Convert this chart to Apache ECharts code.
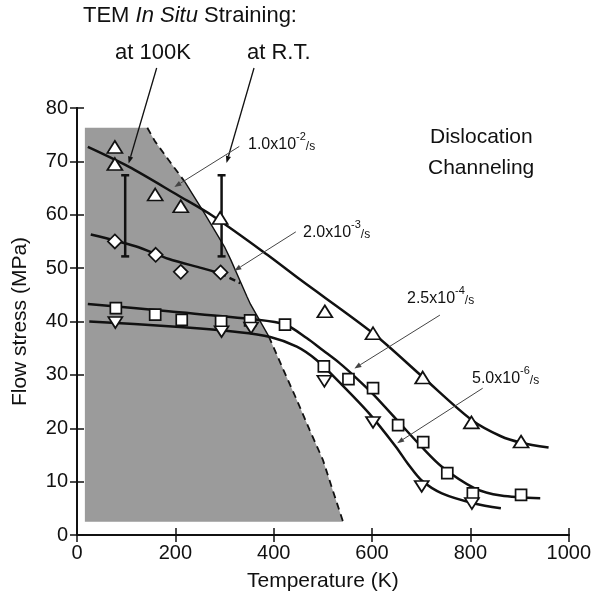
<!DOCTYPE html>
<html>
<head>
<meta charset="utf-8">
<script src="https://cdn.jsdelivr.net/npm/echarts@6/dist/echarts.min.js"></script>
<style>
  html, body { margin: 0; padding: 0; background: #fff; }
  #chart { width: 594px; height: 602px; }
</style>
</head>
<body>
<div id="chart"></div>
<script>
// temperature (K), flow stress (MPa)
var xTicks = [0, 200, 400, 600, 800, 1000];
var yTicks = [0, 10, 20, 30, 40, 50, 60, 70, 80];

// measured points
var rate1e2 = [[77, 72.7], [77, 69.5], [159, 63.8], [211, 61.6], [291, 59.4], [504, 41.9], [602, 37.8], [703, 29.5], [802, 21.1], [903, 17.5]];
var rate2e3 = [[77, 55.0], [160, 52.5], [211, 49.3], [292, 49.2]];
var rate25e4 = [[79, 42.5], [159, 41.3], [213, 40.3], [293, 40.0], [352, 40.2], [423, 39.4], [502, 31.6], [552, 29.2], [602, 27.5], [653, 20.6], [704, 17.4], [753, 11.6], [805, 7.8], [903, 7.5]];
var rate5e6 = [[78, 39.8], [294, 38.1], [354, 38.8], [503, 28.8], [602, 21.1], [701, 9.1], [803, 5.9]];

// fitted curves
var fit1e2 = [[22, 72.7], [105, 69.0], [206, 63.6], [274, 59.9], [387, 52.5], [453, 47.9], [602, 37.8], [703, 29.6], [802, 21.6], [862, 18.5], [903, 17.3], [959, 16.4]];
var fit2e3 = [[28, 56.3], [119, 54.1], [187, 51.7], [254, 50.0], [292, 49.0]];
var fit2e3Ext = [[292, 49.0], [332, 47.2]];
var fit25e4 = [[22, 43.3], [186, 41.9], [360, 40.4], [424, 39.4], [467, 36.9], [500, 34.6], [534, 32.2], [567, 29.5], [603, 26.3], [653, 21.3], [700, 16.6], [742, 12.8], [808, 8.8], [862, 7.4], [942, 6.9]];
var fit5e6 = [[25, 40.0], [186, 39.1], [330, 38.0], [393, 37.1], [447, 35.3], [487, 32.8], [535, 28.5], [594, 22.8], [648, 16.6], [674, 13.2], [701, 10.2], [742, 7.8], [808, 5.9], [862, 5.0]];

// TEM in situ ranges [T, low, high]
var temRanges = [[98, 52.2, 67.4], [294, 52.2, 67.4]];

// "No Channels" region
var shadeTop = [[16, 76.3], [143, 76.3]];
var edgeUpper = [[143, 76.3], [159, 73.7], [186, 70.3], [219, 66.2]];
var edgeMiddle = [[219, 66.2], [259, 60.3], [300, 54.0], [313, 51.5], [346, 44.6], [353, 43.2], [390, 37.2]];
var edgeLower = [[390, 37.2], [420, 30.9], [447, 25.3], [473, 19.7], [500, 14.1], [520, 8.4], [541, 2.5]];
var shadeFloor = 2.5;

// annotation arrows in data units: [from, to]
var temArrows = [[[162, 87.5], [105, 69.6]], [[360, 87.5], [304, 69.7]]];
var rateArrows = [[[330, 72.8], [198, 65.2]], [[445, 56.8], [320, 49.5]], [[738, 41.2], [564, 31.2]], [[825, 27.5], [651, 17.2]]];

var font = "'Liberation Sans', Arial, sans-serif";
var black = '#111';

var myChart = echarts.init(document.getElementById('chart'));

function pts(name, data, symbol, size, rotate) {
  return {
    name: name, type: 'scatter', data: data, symbol: symbol, symbolSize: size,
    symbolRotate: rotate || 0, z: 10,
    itemStyle: { color: '#fff', opacity: 1, borderColor: black, borderWidth: 1.7 }
  };
}
function fit(data, dashed) {
  return {
    type: 'line', data: data, symbol: 'none', smooth: 0.3, z: 5,
    lineStyle: { color: black, width: 2.5, type: dashed ? [6, 4] : 'solid' }
  };
}
function edge(data, dashed) {
  return {
    type: 'line', data: data, symbol: 'none', z: 2,
    lineStyle: { color: black, width: dashed ? 1.8 : 1.4, type: dashed ? [7, 5] : 'solid' }
  };
}
function rateLabel(x, y, mant, exp) {
  return {
    type: 'text', left: x, top: y,
    style: {
      text: '{a|' + mant + '}{b|' + exp + '}{c|/s}',
      rich: {
        a: { fontSize: 16, fontFamily: font, fill: black, lineHeight: 22, verticalAlign: 'bottom' },
        b: { fontSize: 11, fontFamily: font, fill: black, lineHeight: 22, verticalAlign: 'top' },
        c: { fontSize: 12, fontFamily: font, fill: black, lineHeight: 22, verticalAlign: 'bottom' }
      }
    }
  };
}
// arrow drawn through the axes' scales
function arrowShapes(pair, color, width) {
  var a = myChart.convertToPixel({ gridIndex: 0 }, pair[0]);
  var b = myChart.convertToPixel({ gridIndex: 0 }, pair[1]);
  var dx = b[0] - a[0], dy = b[1] - a[1];
  var len = Math.sqrt(dx * dx + dy * dy);
  var ux = dx / len, uy = dy / len;
  var hl = 7, hw = 2.6;
  var bx = b[0] - ux * hl, by = b[1] - uy * hl;
  return [
    { type: 'line', silent: true, z: 50, shape: { x1: a[0], y1: a[1], x2: bx, y2: by }, style: { stroke: color, lineWidth: width } },
    { type: 'polygon', silent: true, z: 50, shape: { points: [[b[0], b[1]], [bx - uy * hw, by + ux * hw], [bx + uy * hw, by - ux * hw]] }, style: { fill: color } }
  ];
}

var axisText = { fontSize: 20, color: black, fontFamily: font, formatter: function (v) { return String(v); } };
var option = {
  animation: false,
  grid: { left: 77, right: 18, top: 108, bottom: 67 },
  xAxis: [{
    type: 'value', min: 0, max: 1000, interval: 200,
    name: 'Temperature (K)', nameLocation: 'middle', nameGap: 36,
    nameTextStyle: { fontSize: 21, color: black, fontFamily: font },
    axisLine: { lineStyle: { color: black, width: 2 } },
    axisTick: { inside: true, length: 7, lineStyle: { color: black, width: 1.5 } },
    axisLabel: Object.assign({ margin: 8 }, axisText),
    splitLine: { show: false }
  }, {
    type: 'value', position: 'top', min: 0, max: 1000, interval: 200,
    axisLine: { lineStyle: { color: black, width: 2 } },
    axisTick: { inside: true, length: 7, lineStyle: { color: black, width: 1.5 } },
    axisLabel: { show: false }, splitLine: { show: false }
  }],
  yAxis: [{
    type: 'value', min: 0, max: 80, interval: 10,
    name: 'Flow stress (MPa)', nameLocation: 'middle', nameGap: 46,
    nameTextStyle: { fontSize: 21, color: black, fontFamily: font },
    axisLine: { show: true, lineStyle: { color: black, width: 2 } },
    axisTick: { show: true, inside: true, length: 7, lineStyle: { color: black, width: 1.5 } },
    axisLabel: Object.assign({ margin: 9 }, axisText),
    splitLine: { show: false }
  }, {
    type: 'value', position: 'right', min: 0, max: 80, interval: 10,
    axisLine: { show: true, lineStyle: { color: black, width: 2 } },
    axisTick: { show: true, inside: true, length: 7, lineStyle: { color: black, width: 1.5 } },
    axisLabel: { show: false }, splitLine: { show: false }
  }],
  series: [
    {
      type: 'line', data: shadeTop.concat(edgeUpper.slice(1), edgeMiddle.slice(1), edgeLower.slice(1)),
      symbol: 'none', z: 1,
      lineStyle: { width: 0 },
      areaStyle: { color: '#9b9b9b', opacity: 1, origin: shadeFloor }
    },
    edge(edgeUpper, true), edge(edgeMiddle, false), edge(edgeLower, true),
    fit(fit1e2), fit(fit2e3), fit(fit2e3Ext, true), fit(fit25e4), fit(fit5e6),
    {
      type: 'custom', data: temRanges, z: 6,
      renderItem: function (params, api) {
        var top = api.coord([api.value(0), api.value(2)]);
        var bot = api.coord([api.value(0), api.value(1)]);
        var w = 4;
        var st = { stroke: black, lineWidth: 2.5 };
        return {
          type: 'group', children: [
            { type: 'line', shape: { x1: top[0], y1: top[1], x2: bot[0], y2: bot[1] }, style: st },
            { type: 'line', shape: { x1: top[0] - w, y1: top[1], x2: top[0] + w, y2: top[1] }, style: st },
            { type: 'line', shape: { x1: bot[0] - w, y1: bot[1], x2: bot[0] + w, y2: bot[1] }, style: st }
          ]
        };
      }
    },
    pts('1.0x10-2/s', rate1e2, 'triangle', [15, 12]),
    pts('2.0x10-3/s', rate2e3, 'diamond', [14, 14]),
    pts('2.5x10-4/s', rate25e4, 'rect', [11, 11]),
    pts('5.0x10-6/s', rate5e6, 'triangle', [14, 11], 180)
  ],
  graphic: [
    {
      type: 'text', left: 83, top: 5,
      style: {
        text: '{n|TEM }{i|In Situ}{n| Straining:}',
        rich: {
          n: { fontSize: 22, fontFamily: font, fill: black },
          i: { fontSize: 22, fontFamily: font, fill: black, fontStyle: 'italic' }
        }
      }
    },
    { type: 'text', left: 115, top: 42, style: { text: 'at 100K', fontSize: 22, fontFamily: font, fill: black } },
    { type: 'text', left: 247, top: 42, style: { text: 'at R.T.', fontSize: 22, fontFamily: font, fill: black } },
    { type: 'text', left: 430, top: 127, style: { text: 'Dislocation', fontSize: 21, fontFamily: font, fill: black } },
    { type: 'text', left: 428, top: 158, style: { text: 'Channeling', fontSize: 21, fontFamily: font, fill: black } },
    { type: 'text', left: 142, top: 458, style: { text: 'No Channels', fontSize: 21, fontFamily: font, fill: black } },
    rateLabel(248, 131, '1.0x10', '-2'),
    rateLabel(303, 219, '2.0x10', '-3'),
    rateLabel(407, 285, '2.5x10', '-4'),
    rateLabel(472, 365, '5.0x10', '-6')
  ]
};
myChart.setOption(option);

var arrowEls = [];
temArrows.forEach(function (p) { arrowEls = arrowEls.concat(arrowShapes(p, black, 1.3)); });
rateArrows.forEach(function (p) { arrowEls = arrowEls.concat(arrowShapes(p, '#444', 1)); });
myChart.setOption({ graphic: option.graphic.concat(arrowEls) });
</script>
</body>
</html>
